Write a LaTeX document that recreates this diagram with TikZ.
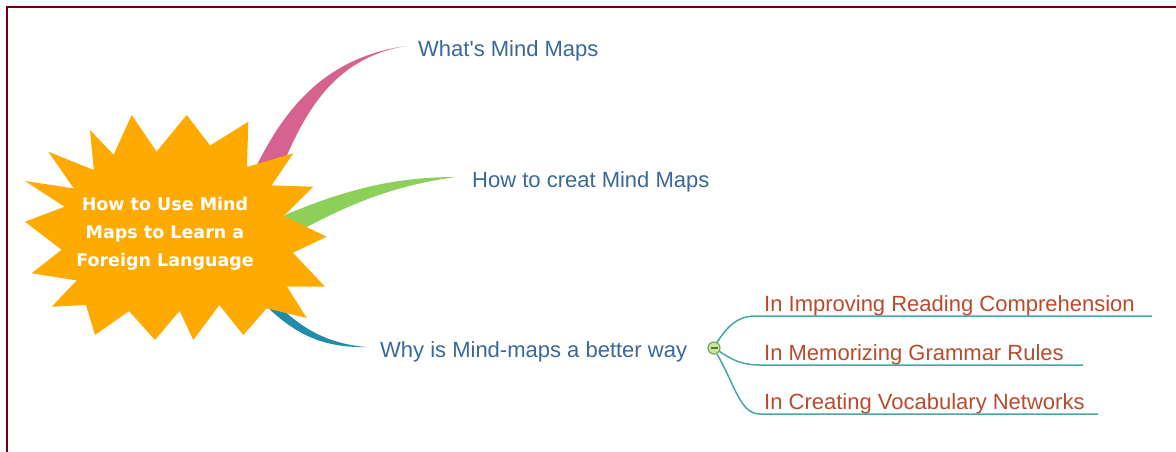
\documentclass[tikz,border=0pt]{standalone}
\usepackage{fontspec}
\setmainfont{Liberation Sans}
\newfontfamily\starfont{DejaVu Sans}
\definecolor{frame}{RGB}{120,0,0}
\definecolor{starorange}{RGB}{255,170,0}
\definecolor{pinkbr}{RGB}{214,99,143}
\definecolor{greenbr}{RGB}{140,208,90}
\definecolor{bluebr}{RGB}{32,140,170}
\definecolor{topicblue}{RGB}{58,104,155}
\definecolor{subred}{RGB}{185,75,45}
\definecolor{subline}{RGB}{70,168,165}
\definecolor{togglefill}{RGB}{205,228,165}
\definecolor{toggledraw}{RGB}{125,170,80}
\tikzset{
  topic/.style={anchor=base west, inner sep=0pt, text=topicblue, font=\fontsize{22}{26}\selectfont},
  subtopic/.style={anchor=base west, inner sep=0pt, text=subred, font=\fontsize{22}{26}\selectfont},
  subconn/.style={draw=subline, line width=1.5pt},
}
\begin{document}
\begin{tikzpicture}[x=1pt,y=-1pt]
\useasboundingbox (0,0) rectangle (1176,452);
\fill[white] (0,0) rectangle (1176,452);
% frame
\draw[frame, line width=2.2pt] (7,452) -- (7,7) -- (1176,7);

% branches
\fill[pinkbr] (252,175) .. controls (282,112) and (322,58) .. (406,46)
  .. controls (335,58) and (305,110) .. (280,172) -- cycle;
\fill[greenbr] (285,215) .. controls (340,192) and (390,177) .. (456,177)
  .. controls (390,186) and (345,206) .. (290,236) -- cycle;
\fill[bluebr] (264,290) .. controls (292,322) and (320,343) .. (366,347)
  .. controls (320,348) and (292,332) .. (262,302) -- cycle;

% central star
\fill[starorange] (131.7,115) -- (156.6,151.6) -- (186.7,115) -- (210.2,145.5)
  -- (248.3,121.7) -- (247,167) -- (293.3,153.3) -- (271.6,185.4)
  -- (313.3,186.7) -- (283.8,216) -- (326.7,236.7) -- (293,252.8)
  -- (325,286.7) -- (287,286.6) -- (306.7,318) -- (266.7,308.3)
  -- (243.3,335) -- (219.4,305) -- (193.3,340) -- (179.6,310.8)
  -- (155,340) -- (129,311.1) -- (95,335) -- (86,305)
  -- (51.7,306.7) -- (76.8,280.4) -- (31.7,273.3) -- (61.6,249.8)
  -- (25,221.7) -- (64.6,206.8) -- (25,181) -- (73.8,188.4)
  -- (48.3,151.7) -- (93.8,170) -- (90,130) -- (113.6,154.7) -- cycle;
\node[text=white, align=center, inner sep=0pt,
  font=\starfont\bfseries\fontsize{17.5}{28}\selectfont] (center) at (165,234)
  {How to Use Mind\\Maps to Learn a\\Foreign Language};

% topics
\node[topic] (t1) at (418,56.7) {What\textquotesingle s Mind Maps};
\node[topic] (t2) at (472,187) {How to creat Mind Maps};
\node[topic] (t3) at (380,357.5) {Why is Mind-maps a better way};

% subtopics
\node[subtopic] (s1) at (764,311.7) {In Improving Reading Comprehension};
\node[subtopic] (s2) at (764,360.7) {In Memorizing Grammar Rules};
\node[subtopic] (s3) at (764,409) {In Creating Vocabulary Networks};

\coordinate (u1) at (1152,316);
\coordinate (u2) at (1083,365);
\coordinate (u3) at (1098,414);

\draw[subconn] (716,344) .. controls (728,325) and (738,316) .. (756,316) -- (u1);
\draw[subconn] (719,351) .. controls (732,360) and (742,365) .. (760,365) -- (u2);
\draw[subconn] (717,354) .. controls (735,385) and (740,414) .. (760,414) -- (u3);

% toggle
\node[circle, draw=toggledraw, fill=togglefill, line width=1.2pt,
  minimum size=12pt, inner sep=0pt] (toggle) at (714,348) {};
\draw[toggledraw!70!black, line width=1.3pt] ([xshift=-3.5pt]toggle.center) -- ([xshift=3.5pt]toggle.center);
\end{tikzpicture}
\end{document}
